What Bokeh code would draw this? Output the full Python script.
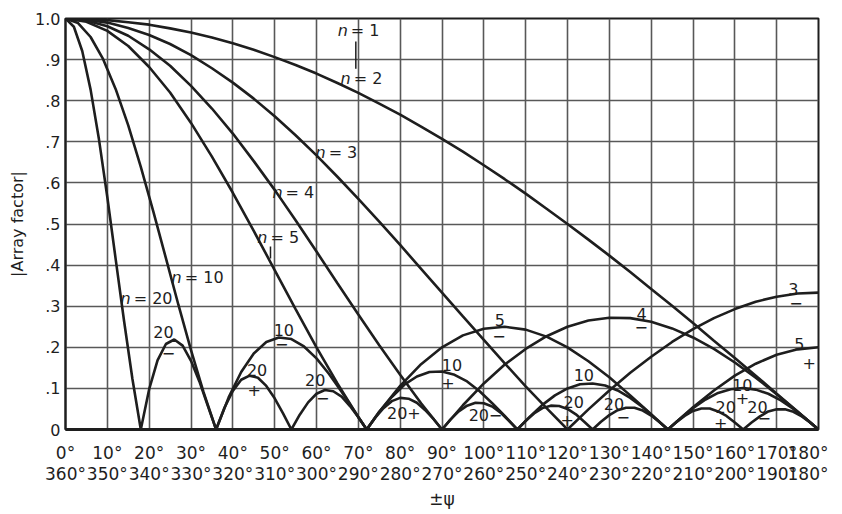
from bokeh.plotting import figure
from bokeh.models import LinearAxis, FixedTicker, Grid
from bokeh.embed import file_html
from bokeh.resources import INLINE
from bokeh.core.properties import value

# ---------------- data ----------------
x_ticks = [0, 10, 20, 30, 40, 50, 60, 70, 80, 90, 100, 110, 120, 130, 140, 150, 160, 170, 180]
x_labels_top = ["0°", "10°", "20°", "30°", "40°", "50°", "60°", "70°", "80°", "90°", "100°",
                "110°", "120°", "130°", "140°", "150°", "160°", "170°", "180°"]
x_labels_bottom = ["360°", "350°", "340°", "330°", "320°", "310°", "300°", "290°", "280°", "270°",
                   "260°", "250°", "240°", "230°", "220°", "210°", "200°", "190°", "180°"]
y_ticks = [0, 0.1, 0.2, 0.3, 0.4, 0.5, 0.6, 0.7, 0.8, 0.9, 1.0]
y_labels = ["0", ".1", ".2", ".3", ".4", ".5", ".6", ".7", ".8", ".9", "1.0"]

psi_5deg = [0, 5, 10, 15, 20, 25, 30, 35, 40, 45, 50, 55, 60, 65, 70, 75, 80, 85, 90,
            95, 100, 105, 110, 115, 120, 125, 130, 135, 140, 145, 150, 155, 160, 165, 170, 175, 180]

af_n2 = [1.000, 0.999, 0.996, 0.991, 0.985, 0.976, 0.966, 0.954, 0.940, 0.924, 0.906, 0.887,
         0.866, 0.843, 0.819, 0.793, 0.766, 0.737, 0.707, 0.676, 0.643, 0.609, 0.574, 0.537,
         0.500, 0.462, 0.423, 0.383, 0.342, 0.301, 0.259, 0.216, 0.174, 0.131, 0.087, 0.044, 0.000]

af_n3 = [1.000, 0.997, 0.990, 0.977, 0.960, 0.938, 0.911, 0.879, 0.844, 0.805, 0.762, 0.716,
         0.667, 0.615, 0.561, 0.506, 0.449, 0.391, 0.333, 0.275, 0.218, 0.161, 0.105, 0.052,
         0.000, 0.049, 0.095, 0.138, 0.177, 0.213, 0.244, 0.271, 0.293, 0.311, 0.323, 0.331, 0.333]

af_n4 = [1.000, 0.995, 0.981, 0.958, 0.925, 0.885, 0.836, 0.781, 0.720, 0.653, 0.583, 0.509,
         0.433, 0.356, 0.280, 0.205, 0.133, 0.064, 0.000, 0.059, 0.112, 0.158, 0.196, 0.227,
         0.250, 0.265, 0.272, 0.271, 0.262, 0.246, 0.224, 0.196, 0.163, 0.126, 0.086, 0.043, 0.000]

psi_n5 = [0, 5, 10, 15, 20, 25, 30, 35, 40, 45, 50, 55, 60, 65, 70, 72, 75, 80, 85, 90, 95, 100,
          105, 110, 115, 120, 125, 130, 135, 140, 144, 145, 150, 155, 160, 165, 170, 175, 180]
af_n5 = [1.000, 0.992, 0.970, 0.933, 0.882, 0.820, 0.746, 0.664, 0.576, 0.483, 0.388, 0.293,
         0.200, 0.112, 0.030, 0.000, 0.043, 0.106, 0.159, 0.200, 0.229, 0.245, 0.250, 0.243,
         0.226, 0.200, 0.166, 0.127, 0.083, 0.037, 0.000, 0.009, 0.054, 0.095, 0.131, 0.160,
         0.182, 0.195, 0.200]

psi_3deg = [0, 3, 6, 9, 12, 15, 18, 21, 24, 27, 30, 33, 36, 39, 42, 45, 48, 51, 54, 57, 60, 63,
            66, 69, 72, 75, 78, 81, 84, 87, 90, 93, 96, 99, 102, 105, 108, 111, 114, 117, 120,
            123, 126, 129, 132, 135, 138, 141, 144, 147, 150, 153, 156, 159, 162, 165, 168, 171,
            174, 177, 180]
af_n10 = [1.000, 0.989, 0.955, 0.901, 0.828, 0.740, 0.639, 0.530, 0.417, 0.303, 0.193, 0.091,
          0.000, 0.078, 0.140, 0.185, 0.213, 0.224, 0.220, 0.202, 0.173, 0.135, 0.092, 0.046,
          0.000, 0.043, 0.079, 0.109, 0.129, 0.140, 0.141, 0.133, 0.117, 0.093, 0.064, 0.033,
          0.000, 0.031, 0.060, 0.083, 0.100, 0.110, 0.112, 0.107, 0.095, 0.077, 0.054, 0.027,
          0.000, 0.027, 0.052, 0.073, 0.089, 0.098, 0.101, 0.097, 0.087, 0.071, 0.050, 0.026,
          0.000]

psi_2deg = [0, 2, 4, 6, 8, 10, 12, 14, 16, 18, 20, 22, 24, 26, 28, 30, 32, 34, 36, 38, 40, 42,
            44, 46, 48, 50, 52, 54, 56, 58, 60, 62, 64, 66, 68, 70, 72, 74, 76, 78, 80, 82, 84,
            86, 88, 90, 92, 94, 96, 98, 100, 102, 104, 106, 108, 110, 112, 114, 116, 118, 120,
            122, 124, 126, 128, 130, 132, 134, 136, 138, 140, 142, 144, 146, 148, 150, 152, 154,
            156, 158, 160, 162, 164, 166, 168, 170, 172, 174, 176, 178, 180]
af_n20 = [1.000, 0.980, 0.921, 0.827, 0.706, 0.565, 0.414, 0.264, 0.123, 0.000,
          0.098, 0.168, 0.208, 0.219, 0.204, 0.167, 0.117, 0.058, 0.000,
          0.053, 0.094, 0.121, 0.131, 0.126, 0.106, 0.076, 0.039, 0.000,
          0.036, 0.066, 0.087, 0.096, 0.093, 0.080, 0.057, 0.030, 0.000,
          0.028, 0.052, 0.069, 0.077, 0.075, 0.065, 0.047, 0.025, 0.000,
          0.024, 0.044, 0.058, 0.065, 0.064, 0.056, 0.041, 0.021, 0.000,
          0.021, 0.039, 0.052, 0.058, 0.057, 0.050, 0.037, 0.019, 0.000,
          0.019, 0.035, 0.047, 0.053, 0.053, 0.046, 0.034, 0.018, 0.000,
          0.018, 0.033, 0.045, 0.051, 0.051, 0.044, 0.033, 0.017, 0.000,
          0.017, 0.032, 0.044, 0.049, 0.049, 0.043, 0.032, 0.017, 0.000]

curve_labels = ["= 1", "= 2", "= 3", "= 4", "= 5", "= 10", "= 20"]

# ---------------- annotation placement (layout, not data) ----------------
curve_label_x = [68.2, 68.9, 62.9, 52.6, 49.0, 28.5, 16.3]
curve_label_y = [0.970, 0.854, 0.674, 0.577, 0.467, 0.371, 0.319]

lobe_text = ["20", "−", "10", "−", "20", "+", "20", "−", "20", "+",
             "10", "+", "20", "−", "5", "−", "10", "20", "+", "20", "−",
             "4", "−", "3", "−", "5", "+", "10", "+", "20", "+", "20", "−"]
lobe_x = [23.4, 24.6, 52.2, 51.7, 45.8, 45.1, 59.7, 61.5, 79.3, 83.3,
          92.4, 91.4, 98.8, 102.8, 103.8, 103.6, 123.9, 121.5, 119.9, 131.1, 133.3,
          137.7, 137.6, 174.0, 174.6, 175.4, 177.8, 161.8, 161.8, 157.8, 156.6, 165.4, 167.0]
lobe_y = [0.238, 0.187, 0.242, 0.208, 0.144, 0.097, 0.120, 0.077, 0.039, 0.039,
          0.156, 0.114, 0.035, 0.035, 0.266, 0.228, 0.132, 0.067, 0.023, 0.063, 0.030,
          0.282, 0.250, 0.341, 0.307, 0.209, 0.162, 0.109, 0.077, 0.055, 0.015, 0.055, 0.027]

pointer_x0 = [69.4, 49.0]
pointer_y0 = [0.944, 0.445]
pointer_y1 = [0.878, 0.416]

INK = "#1e1e1e"
GRID = "#585858"
FONT = "DejaVu Sans"

p = figure(frame_width=753, frame_height=411, x_range=(0, 180), y_range=(0, 1),
           x_axis_type=None, y_axis_type=None,
           output_backend="svg", toolbar_location=None,
           min_border_left=65, min_border_right=10, min_border_top=18, min_border_bottom=4,
           background_fill_color="white", border_fill_color="white")
p.outline_line_color = INK
p.outline_line_width = 2

xt = FixedTicker(ticks=x_ticks)
yt = FixedTicker(ticks=y_ticks)
p.add_layout(Grid(dimension=0, ticker=xt, grid_line_color=GRID, grid_line_width=1.6))
p.add_layout(Grid(dimension=1, ticker=yt, grid_line_color=GRID, grid_line_width=1.6))

yaxis = LinearAxis(ticker=yt, major_label_overrides=dict(zip(y_ticks, y_labels)),
                   major_tick_out=0, major_tick_in=0, minor_tick_out=0, minor_tick_in=0,
                   axis_line_color=INK, axis_line_width=2,
                   major_label_standoff=5, major_label_text_font=FONT,
                   major_label_text_font_size="16px", major_label_text_color=INK,
                   axis_label="|Array factor|", axis_label_standoff=5,
                   axis_label_text_font=FONT, axis_label_text_font_size="16px",
                   axis_label_text_font_style="normal", axis_label_text_color=INK)
p.add_layout(yaxis, "left")

xaxis1 = LinearAxis(ticker=xt, major_label_overrides=dict(zip(x_ticks, x_labels_top)),
                    major_tick_out=0, major_tick_in=0, minor_tick_out=0, minor_tick_in=0,
                    axis_line_color=INK, axis_line_width=3,
                    major_label_standoff=13, major_label_text_font=FONT,
                    major_label_text_font_size="17px", major_label_text_color=INK)
xaxis2 = LinearAxis(ticker=xt, major_label_overrides=dict(zip(x_ticks, x_labels_bottom)),
                    major_tick_out=0, major_tick_in=0, minor_tick_out=0, minor_tick_in=0,
                    axis_line_color=None, major_label_standoff=-2,
                    major_label_text_font=FONT, major_label_text_font_size="17px",
                    major_label_text_color=INK,
                    axis_label="±ψ", axis_label_standoff=2,
                    axis_label_text_font=FONT, axis_label_text_font_size="17px",
                    axis_label_text_font_style="normal", axis_label_text_color=INK)
p.add_layout(xaxis1, "below")
p.add_layout(xaxis2, "below")

for xs, ys in [(psi_5deg, af_n2), (psi_5deg, af_n3), (psi_5deg, af_n4), (psi_n5, af_n5),
               (psi_3deg, af_n10), (psi_2deg, af_n20)]:
    p.line(xs, ys, line_color=INK, line_width=2.6)

p.text(x=curve_label_x, y=curve_label_y, text=["n"] * len(curve_label_x), x_offset=-3,
       text_align="right", text_baseline="middle", text_color=INK,
       text_font=value(FONT), text_font_size=value("16px"), text_font_style="italic")
p.text(x=curve_label_x, y=curve_label_y, text=curve_labels,
       text_align="left", text_baseline="middle", text_color=INK,
       text_font=value(FONT), text_font_size=value("16px"))
p.text(x=lobe_x, y=lobe_y, text=lobe_text,
       text_align="center", text_baseline="middle", text_color=INK,
       text_font=value(FONT), text_font_size=value("16px"))
p.segment(x0=pointer_x0, y0=pointer_y0, x1=pointer_x0, y1=pointer_y1,
          line_color=INK, line_width=1.5)

open("out.html", "w").write(file_html(p, INLINE))
